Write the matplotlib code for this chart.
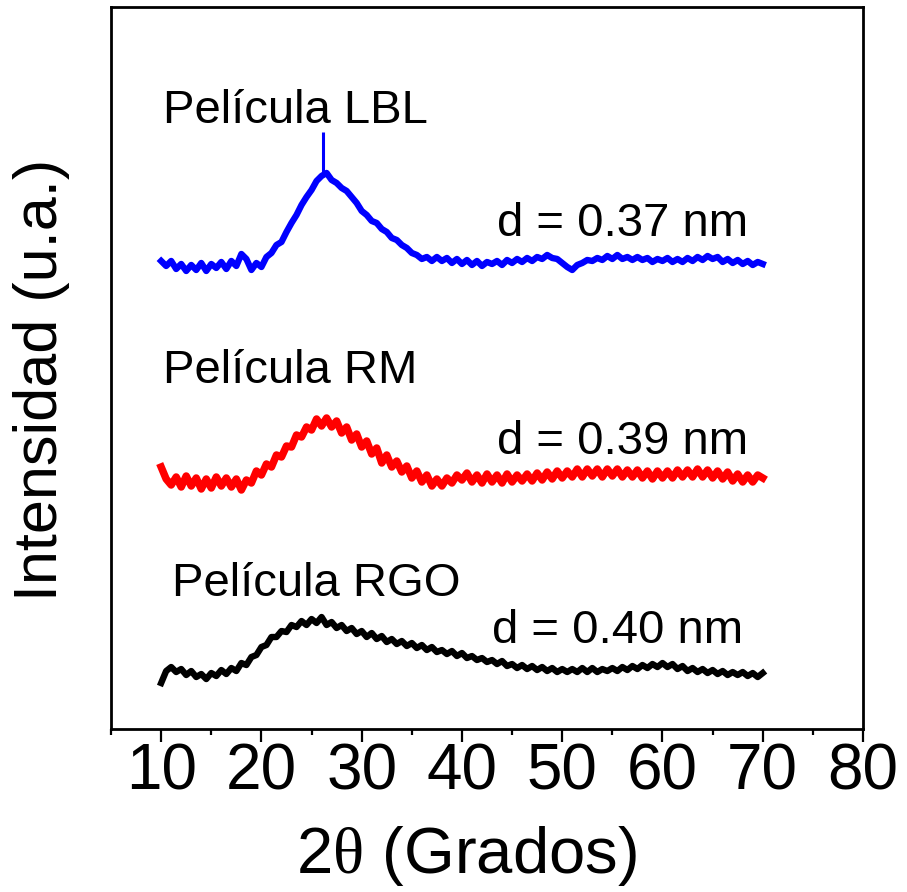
import numpy as np
import matplotlib
matplotlib.use("Agg")
import matplotlib.pyplot as plt
from matplotlib.ticker import MultipleLocator

plt.rcParams['font.family'] = ['Liberation Sans', 'DejaVu Sans']
plt.rcParams['mathtext.fontset'] = 'custom'
plt.rcParams['mathtext.it'] = 'Liberation Serif'
plt.rcParams['mathtext.rm'] = 'Liberation Serif'

# 2theta grid (degrees), one reading every 0.5 deg
two_theta = np.arange(10, 70.5, 0.5)

# intensities (arb. units, stacked offsets included)
lbl = [468, 463, 468, 460, 465, 458, 464, 459, 466, 458, 465, 461, 467, 460, 468, 463,
       475, 470, 459, 466, 462, 472, 476, 484, 487, 497, 506, 514, 524, 532, 539, 548,
       553, 556, 549, 546, 541, 538, 532, 526, 518, 514, 508, 506, 500, 497, 491, 489,
       484, 481, 476, 474, 470, 472, 468, 472, 468, 471, 466, 470, 465, 469, 464, 468,
       463, 467, 465, 468, 464, 469, 466, 470, 467, 471, 468, 472, 470, 474, 471, 470,
       466, 462, 459, 464, 466, 469, 468, 471, 469, 473, 470, 474, 470, 472, 469, 472,
       469, 471, 467, 470, 468, 471, 467, 470, 467, 471, 468, 472, 469, 473, 470, 472,
       467, 470, 466, 469, 465, 468, 464, 467, 465]
lbl_peak_x = 26.1
lbl_peak_top = 597

rm = [262, 250, 244, 252, 242, 253, 243, 251, 240, 250, 241, 252, 243, 251, 242, 250,
      239, 249, 246, 258, 254, 265, 262, 274, 272, 283, 282, 294, 292, 302, 299, 310,
      303, 311, 302, 308, 296, 302, 289, 295, 282, 288, 275, 281, 266, 274, 262, 268,
      257, 263, 251, 258, 247, 254, 243, 250, 243, 251, 246, 254, 249, 256, 247, 254,
      246, 255, 247, 254, 246, 255, 247, 254, 248, 255, 248, 256, 249, 257, 250, 258,
      251, 258, 252, 260, 252, 260, 253, 260, 252, 260, 253, 260, 252, 259, 252, 259,
      251, 258, 250, 258, 251, 258, 251, 259, 252, 259, 252, 260, 252, 259, 251, 258,
      250, 257, 248, 255, 247, 254, 247, 254, 251]

rgo = [46, 58, 62, 57, 60, 54, 58, 52, 55, 50, 56, 53, 59, 55, 61, 58,
       66, 64, 72, 74, 82, 84, 92, 92, 98, 97, 104, 102, 108, 104, 110, 106,
       112, 104, 107, 101, 104, 98, 101, 95, 98, 92, 96, 90, 93, 87, 90, 85,
       88, 83, 86, 81, 84, 79, 82, 77, 79, 75, 78, 73, 76, 71, 73, 69,
       71, 67, 69, 65, 68, 63, 65, 61, 64, 60, 63, 59, 62, 58, 61, 57,
       60, 57, 60, 57, 61, 57, 61, 57, 60, 58, 61, 58, 62, 59, 63, 60,
       64, 61, 65, 62, 66, 62, 65, 60, 63, 58, 61, 57, 60, 56, 59, 55,
       58, 54, 57, 54, 57, 53, 56, 52, 56]

fig = plt.figure(figsize=(9.07, 8.92), dpi=100)
ax = fig.add_axes([0.1224, 0.1827, 0.8291, 0.8095])

ax.plot(two_theta, lbl, color='#0000ff', lw=4.6, solid_joinstyle='round')
ax.vlines(lbl_peak_x, 553, lbl_peak_top, color='#0000ff', lw=2.2)
ax.plot(two_theta, rm, color='#ff0000', lw=5.4, solid_joinstyle='round')
ax.plot(two_theta, rgo, color='black', lw=4.6, solid_joinstyle='round')

fs = 34
ax.text(10.2, 606, 'Película LBL', fontsize=fs, va='baseline')
ax.text(43.5, 493, 'd = 0.37 nm', fontsize=fs, va='baseline')
ax.text(10.2, 346, 'Película RM', fontsize=fs, va='baseline')
ax.text(43.5, 275, 'd = 0.39 nm', fontsize=fs, va='baseline')
ax.text(11.1, 133, 'Película RGO', fontsize=fs, va='baseline')
ax.text(43.0, 86, 'd = 0.40 nm', fontsize=fs, va='baseline')

ax.set_xlim(5, 80)
ax.set_ylim(0, 722)
ax.xaxis.set_major_locator(MultipleLocator(10))
ax.xaxis.set_minor_locator(MultipleLocator(5))
ax.set_xticks([10, 20, 30, 40, 50, 60, 70, 80])
ax.set_yticks([])
ax.tick_params(axis='x', which='major', direction='out', length=9, width=1.6,
               labelsize=46, pad=1)
ax.tick_params(axis='x', which='minor', direction='out', length=4.5, width=1.6)
for s in ax.spines.values():
    s.set_linewidth(2.0)

ax.set_xlabel(r'2$\theta$ (Grados)', fontsize=47, va='center')
ax.xaxis.set_label_coords(0.473, -0.176)
ax.set_ylabel('Intensidad (u.a.)', fontsize=44, va='center')
ax.yaxis.set_label_coords(-0.092, 0.483)

fig.savefig('out.png', dpi=100)
plt.close()
